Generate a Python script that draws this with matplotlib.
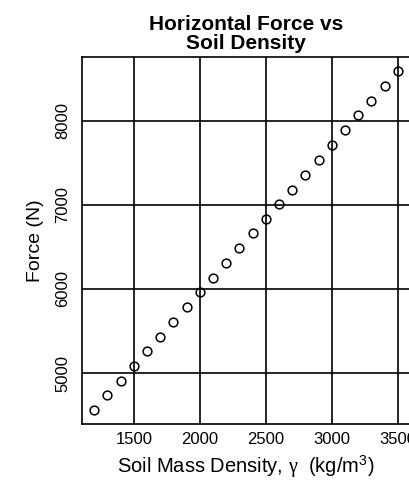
import matplotlib
matplotlib.use("Agg")
import matplotlib.pyplot as plt

plt.rcParams["font.family"] = ["Liberation Sans", "DejaVu Sans"]
plt.rcParams["mathtext.fontset"] = "custom"
plt.rcParams["mathtext.rm"] = "Liberation Sans"
plt.rcParams["mathtext.it"] = "Liberation Serif"

density = [1200, 1300, 1400, 1500, 1600, 1700, 1800, 1900, 2000, 2100, 2200, 2300,
           2400, 2500, 2600, 2700, 2800, 2900, 3000, 3100, 3200, 3300, 3400, 3500]
force = [4558, 4735, 4909, 5083, 5261, 5431, 5609, 5786, 5961, 6134, 6310, 6482,
         6660, 6830, 7008, 7181, 7359, 7534, 7708, 7886, 8063, 8237, 8415, 8590]

x_ticks = [1500, 2000, 2500, 3000, 3500]
y_ticks = [5000, 6000, 7000, 8000]


def main():
    fig = plt.figure(figsize=(4.1, 4.8), dpi=100)
    ax = fig.add_axes([0.2, 0.1167, 0.8, 0.764])

    ax.plot(density, force, linestyle="none", marker="o", markersize=6.3,
            markerfacecolor="none", markeredgecolor="black", markeredgewidth=1.1,
            zorder=3)

    # R style 4% padding on both axes
    xr = max(density) - min(density)
    yr = max(force) - min(force)
    ax.set_xlim(min(density) - 0.04 * xr, max(density) + 0.04 * xr)
    ax.set_ylim(min(force) - 0.04 * yr, max(force) + 0.04 * yr)

    ax.set_xticks(x_ticks)
    ax.set_yticks(y_ticks)
    ax.set_xticklabels([str(v) for v in x_ticks])
    ax.set_yticklabels([str(v) for v in y_ticks], rotation=90, va="center")
    ax.tick_params(length=0, labelsize=12)
    ax.tick_params(axis="x", pad=6)
    ax.tick_params(axis="y", pad=8.5)

    ax.grid(True, color="black", linewidth=1.2)
    ax.set_axisbelow(True)
    for s in ax.spines.values():
        s.set_linewidth(1.2)

    ax.set_xlabel(r"Soil Mass Density, $\gamma$  (kg/m$^3$)", fontsize=14.5, labelpad=5)
    ax.set_ylabel("Force (N)", fontsize=14, labelpad=8)
    ax.set_title("Horizontal Force vs\nSoil Density", fontsize=15,
                 fontweight="bold", linespacing=1.0, pad=6)

    fig.savefig("out.png", dpi=100)


if __name__ == "__main__":
    main()
